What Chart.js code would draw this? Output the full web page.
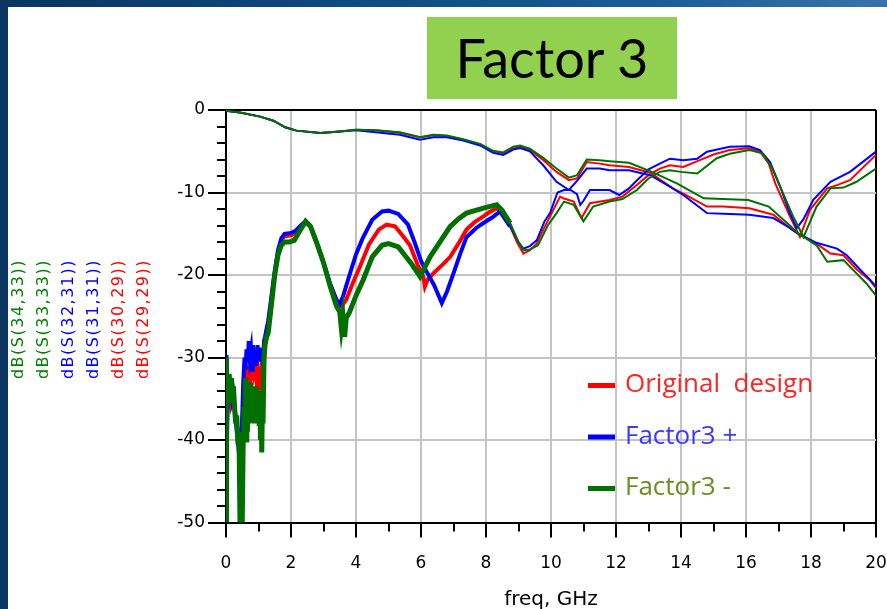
<!DOCTYPE html>
<html>
<head>
<meta charset="utf-8">
<script src="https://cdn.jsdelivr.net/npm/chart.js@4.4.1/dist/chart.umd.min.js"></script>
<style>
  html, body { margin: 0; padding: 0; }
  body {
    width: 887px; height: 609px; overflow: hidden; position: relative;
    background: linear-gradient(90deg, #0a3560 0%, #0f4a80 40%, #1b5d95 75%, #3a73aa 100%);
  }
  #panel { position: absolute; left: 8px; top: 7px; width: 879px; height: 602px; background: #fff; }
  #panel canvas { position: absolute; left: 0; top: 0; }
  #title {
    position: absolute; left: 427px; top: 17px; width: 250px; height: 82px;
    background: #92d050; color: #000; text-align: center;
    font-family: Lato, "Open Sans", sans-serif; font-size: 54px; line-height: 82px;
  }
</style>
</head>
<body>
<div id="panel"><canvas id="sparam" width="879" height="602"></canvas></div>
<div id="title">Factor 3</div>
<script>
// [freq GHz, dB] — reflection curves
const s29_29 = [[0.02,-34],[0.05,-35],[0.1,-34],[0.15,-35.5],[0.2,-34.5],[0.25,-36],[0.3,-37.5],[0.35,-39],[0.4,-40.5],[0.43,-46],
  [0.45,-50],[0.47,-45],[0.5,-38],[0.55,-35],[0.6,-32.5],[0.65,-34],[0.7,-31],[0.75,-32.5],[0.8,-30.5],[0.85,-32],
  [0.9,-31],[0.95,-33.5],[1.0,-32],[1.05,-34],[1.1,-31.5],[1.15,-32],[1.2,-28.5],[1.25,-27],
  [1.3,-26],[1.4,-23],[1.5,-19.8],[1.6,-17.3],[1.7,-15.8],[1.8,-15.3],[2.0,-15.2],[2.15,-14.8],[2.3,-14.1],[2.45,-13.5],
  [2.6,-14.1],[2.8,-16.2],[3.0,-18.5],[3.2,-21.2],[3.4,-23.2],[3.55,-23.8],[3.7,-23],[3.9,-21],[4.12,-19],[4.4,-16.3],
  [4.7,-14.5],[4.94,-13.9],[5.2,-14.1],[5.45,-15.3],[5.66,-16.4],[5.9,-18.8],[6.07,-20.2],[6.12,-21.4],[6.2,-20.6],[6.38,-19.8],
  [6.65,-18.8],[6.9,-17.8],[7.15,-16.2],[7.4,-14.5],[7.65,-13.6],[7.92,-12.9],[8.1,-12.4],[8.33,-11.9],[8.5,-12.5],[8.74,-14.1],
  [8.95,-16],[9.15,-17.4],[9.35,-17],[9.56,-16.2],[9.8,-14.2],[9.97,-12.9],[10.28,-10.5],[10.38,-10.7],[10.7,-11.1],[10.94,-13.1],
  [11.2,-11.3],[11.8,-10.9],[12.2,-10.5],[12.64,-9.1],[13.0,-7.9],[13.35,-7.1],[13.66,-6.7],[14.07,-6.9],[14.6,-6.05],[15.0,-5.4],
  [15.5,-4.85],[16.1,-4.65],[16.43,-5.05],[16.7,-6.5],[16.9,-8.9],[17.35,-12.9],[17.66,-15.4],[17.97,-12.1],[18.5,-9.5],[18.8,-9.1],
  [19.2,-8.5],[20,-5.45]];

const s31_31 = [[0,-50],[0,-29.7],[0.03,-42],[0.06,-35],[0.1,-34],[0.13,-35.5],[0.17,-33.5],[0.2,-35],[0.23,-34.5],[0.27,-36],
  [0.3,-37.5],[0.33,-39],[0.37,-40.5],[0.4,-40],[0.43,-38.5],[0.47,-41],[0.5,-37],[0.53,-33],[0.57,-30],[0.6,-31.5],
  [0.63,-29],[0.67,-30.5],[0.7,-28],[0.73,-30],[0.77,-29],[0.8,-31.5],[0.83,-28.5],[0.87,-30.5],[0.9,-29],[0.93,-31],
  [0.97,-28.5],[1.0,-30],[1.03,-28.8],[1.07,-30.5],[1.1,-29],[1.13,-31],[1.17,-28],[1.2,-27.5],[1.25,-26.5],
  [1.3,-25.5],[1.4,-22.5],[1.5,-19.5],[1.6,-17],[1.7,-15.6],[1.8,-15],[2.0,-14.9],[2.15,-14.6],[2.3,-14],[2.45,-13.5],
  [2.6,-14.1],[2.8,-16.2],[3.0,-18.5],[3.2,-21],[3.4,-23],[3.5,-23.5],[3.6,-22.6],[3.8,-20],[4.0,-17.5],[4.2,-15.6],
  [4.5,-13.3],[4.8,-12.3],[5.0,-12.2],[5.3,-12.6],[5.6,-13.9],[5.8,-16],[6.0,-18.3],[6.2,-19.8],[6.4,-21.2],[6.64,-23.4],
  [6.8,-22],[7.0,-19.8],[7.2,-17.5],[7.4,-15.4],[7.7,-14.3],[7.92,-13.7],[8.2,-13],[8.43,-12.3],[8.74,-14.1],[9.0,-16],
  [9.15,-16.8],[9.35,-16.5],[9.56,-15.8],[9.8,-13.5],[9.97,-12.5],[10.2,-10],[10.4,-9.7],[10.6,-9.7],[10.8,-10.2],[10.9,-11.5],
  [11.0,-11],[11.2,-9.7],[11.8,-9.7],[12.1,-10.3],[12.4,-9.5],[12.6,-8.7],[13.0,-7.2],[13.35,-6.5],[13.66,-5.9],[14.07,-6.1],
  [14.5,-5.9],[14.8,-5.05],[15.5,-4.45],[16.1,-4.4],[16.43,-4.85],[16.74,-6.3],[17.05,-9.3],[17.35,-12.5],[17.56,-14.3],[17.76,-13.3],
  [18.07,-10.9],[18.6,-8.7],[19.2,-7.5],[20,-5.05]];

const s33_33 = [[0,-30],[0,-50],[0.03,-36],[0.07,-33],[0.1,-32],[0.13,-35.5],[0.17,-32.5],[0.2,-35],[0.23,-33.5],[0.27,-36.5],
  [0.3,-38],[0.33,-37],[0.37,-40.5],[0.4,-39],[0.43,-50],[0.47,-42],[0.5,-50],[0.53,-40],[0.55,-36],[0.57,-39],
  [0.6,-32.5],[0.62,-40],[0.64,-33],[0.66,-39],[0.68,-33],[0.7,-38],[0.72,-33.5],[0.74,-37.5],[0.76,-33],[0.78,-37],
  [0.8,-33.5],[0.82,-37.5],[0.84,-33.5],[0.86,-38],[0.88,-34],[0.9,-37.5],[0.92,-33.5],[0.94,-37],[0.96,-34],[0.98,-38],
  [1.0,-34.5],[1.02,-38],[1.04,-34],[1.06,-40],[1.08,-35],[1.1,-41.5],[1.12,-36],[1.14,-38],[1.17,-30],[1.2,-28.5],[1.25,-27.5],
  [1.3,-27],[1.4,-23.5],[1.5,-20],[1.6,-17.6],[1.7,-16.4],[1.8,-16],[1.95,-16],[2.1,-15.8],[2.25,-14.8],[2.45,-13.5],
  [2.6,-14.1],[2.8,-16.2],[3.0,-18.5],[3.2,-21.3],[3.4,-23.8],[3.5,-24.5],[3.55,-26.5],[3.6,-25],[3.65,-27.5],[3.7,-25.2],
  [3.8,-24.5],[4.0,-22.5],[4.22,-20.6],[4.5,-17.8],[4.8,-16.4],[5.0,-16.2],[5.3,-16.6],[5.46,-17.4],[5.7,-18.6],[5.97,-20.2],
  [6.1,-19.2],[6.28,-17.8],[6.6,-15.9],[6.9,-14.1],[7.15,-13.2],[7.4,-12.5],[7.92,-11.9],[8.33,-11.5],[8.5,-12.2],[8.74,-13.7],
  [9.0,-16],[9.15,-17],[9.35,-16.9],[9.6,-16.4],[9.9,-14],[10.17,-12.5],[10.4,-11.1],[10.7,-11.5],[11.0,-13.5],[11.3,-11.7],
  [11.8,-11.1],[12.2,-10.8],[12.64,-9.7],[13.0,-8.3],[13.35,-7.5],[13.66,-7.3],[14.0,-7.5],[14.5,-7.7],[15.1,-5.85],[15.5,-5.3],
  [16.1,-4.85],[16.5,-5.25],[16.8,-7],[17.05,-9.3],[17.45,-12.9],[17.77,-15.4],[18.17,-11.7],[18.6,-9.5],[19.0,-9.4],[19.4,-8.7],
  [20,-7.1]];

// transmission curves
const s30_29 = [[0,-0.1],[0.43,-0.3],[1.05,-0.8],[1.46,-1.3],[1.82,-2.1],[2.17,-2.5],[2.9,-2.8],[3.5,-2.6],[4.0,-2.4],[4.6,-2.45],
  [5.35,-2.75],[5.97,-3.3],[6.38,-3.05],[6.79,-3.15],[7.3,-3.6],[7.82,-4.2],[8.22,-5.05],[8.53,-5.25],[8.84,-4.65],[9.05,-4.45],
  [9.35,-4.85],[9.76,-6.05],[10.17,-7.5],[10.55,-8.5],[10.8,-8.3],[11.1,-6.3],[11.5,-6.5],[11.8,-6.7],[12.4,-6.9],[13.05,-7.6],
  [13.75,-9.5],[14.1,-10.2],[14.8,-11.7],[15.3,-11.7],[16.1,-11.9],[16.84,-12.7],[17.35,-14.3],[17.56,-14.9],[18.17,-16.2],[18.6,-17.4],
  [19.0,-17.6],[19.4,-19.3],[19.8,-20.6],[20,-21.6]];

const s32_31 = [[0,-0.1],[0.43,-0.3],[1.05,-0.8],[1.46,-1.3],[1.82,-2.1],[2.17,-2.5],[2.9,-2.8],[3.5,-2.6],[4.0,-2.45],[4.6,-2.7],
  [5.35,-3.0],[5.97,-3.6],[6.38,-3.3],[6.79,-3.3],[7.3,-3.7],[7.82,-4.3],[8.22,-5.2],[8.53,-5.45],[8.84,-4.8],[9.05,-4.6],
  [9.35,-5.0],[9.76,-6.7],[10.17,-8.7],[10.55,-9.7],[10.8,-8.6],[11.1,-7.1],[11.5,-7.1],[11.8,-7.3],[12.4,-7.3],[13.05,-7.9],
  [13.66,-9.3],[14.07,-10.3],[14.8,-12.5],[15.5,-12.6],[16.1,-12.7],[16.84,-13.1],[17.35,-14.3],[17.56,-14.9],[18.17,-16.1],[18.8,-16.8],
  [19.1,-17.6],[19.5,-19.3],[19.8,-20.5],[20,-21.4]];

const s34_33 = [[0,-0.1],[0.43,-0.3],[1.05,-0.8],[1.46,-1.3],[1.82,-2.1],[2.17,-2.5],[2.9,-2.8],[3.5,-2.6],[4.0,-2.4],[4.6,-2.45],
  [5.35,-2.7],[5.97,-3.3],[6.38,-3.0],[6.79,-3.1],[7.3,-3.55],[7.82,-4.1],[8.22,-4.95],[8.53,-5.15],[8.84,-4.45],[9.05,-4.3],
  [9.35,-4.7],[9.76,-5.8],[10.17,-7.1],[10.55,-8.2],[10.8,-7.9],[11.1,-6.0],[11.5,-6.1],[11.8,-6.2],[12.4,-6.4],[13.05,-7.4],
  [13.87,-8.9],[14.7,-10.7],[16.07,-10.9],[16.7,-11.7],[17.35,-14.0],[17.56,-14.8],[18.17,-16.4],[18.5,-18.4],[19.0,-18.2],[19.4,-19.8],
  [19.7,-21],[20,-22.5]];

const RED = '#ff0000', BLUE = '#0000ff', GREEN = '#007000';

// rotated y-axis labels, left to right
const yLabels = ['dB(S(34,33))', 'dB(S(33,33))', 'dB(S(32,31))', 'dB(S(31,31))', 'dB(S(30,29))', 'dB(S(29,29))'];
const yLabelColors = ['#008000', '#008000', BLUE, BLUE, RED, RED];

const legendNames = ['Original  design', 'Factor3 +', 'Factor3 -'];
const legendLineColors = [RED, BLUE, GREEN];
const legendTextColors = ['#ff2424', '#3a3aff', '#6b8e23'];

const pts = arr => arr.map(([x, y]) => ({x, y}));

// reflection traces are noisy (thick) below ~8.6 GHz
const thickLow = w => ({ borderWidth: c => c.p0.parsed.x < 8.6 ? w : 2 });

function trace(label, data, color, reflect) {
  return {
    label, data: pts(data), borderColor: color, backgroundColor: color,
    borderWidth: 2, pointRadius: 0, tension: 0, fill: false,
    segment: reflect ? thickLow(color === GREEN ? 5 : 4) : undefined
  };
}

const decor = {
  id: 'decor',
  afterDraw(chart) {
    const {ctx, chartArea: a, scales: {x, y}} = chart;
    ctx.save();

    // minor tick marks
    ctx.strokeStyle = '#000';
    ctx.lineWidth = 2;
    ctx.beginPath();
    for (let v = -48; v < 0; v += 2) {
      if (v % 10 === 0) continue;
      const py = Math.round(y.getPixelForValue(v));
      ctx.moveTo(a.left - 9, py);
      ctx.lineTo(a.left, py);
    }
    for (let v = 1; v < 20; v += 2) {
      const px = Math.round(x.getPixelForValue(v));
      ctx.moveTo(px, a.bottom);
      ctx.lineTo(px, a.bottom + 9);
    }
    ctx.stroke();

    // stacked trace names on the left
    ctx.font = '16px "DejaVu Sans"';
    ctx.letterSpacing = '1.5px';
    ctx.textAlign = 'center';
    ctx.textBaseline = 'middle';
    yLabels.forEach((t, i) => {
      ctx.save();
      ctx.translate(11 + i * 25, 312);
      ctx.rotate(-Math.PI / 2);
      ctx.fillStyle = yLabelColors[i];
      ctx.fillText(t, 0, 0);
      ctx.restore();
    });
    ctx.letterSpacing = '0px';

    // legend inside the plot
    ctx.font = '26px "Open Sans"';
    ctx.textAlign = 'left';
    legendNames.forEach((t, i) => {
      const py = 378 + i * 51.5;
      ctx.fillStyle = legendLineColors[i];
      ctx.fillRect(580, py - 2, 27, 5);
      ctx.fillStyle = legendTextColors[i];
      ctx.fillText(t, 617, py);
    });
    ctx.restore();
  }
};

const tickFont = {family: 'DejaVu Sans', size: 17};

new Chart(document.getElementById('sparam'), {
  type: 'line',
  data: {
    datasets: [
      trace('dB(S(34,33))', s34_33, GREEN, false),
      trace('dB(S(33,33))', s33_33, GREEN, true),
      trace('dB(S(32,31))', s32_31, BLUE, false),
      trace('dB(S(31,31))', s31_31, BLUE, true),
      trace('dB(S(30,29))', s30_29, RED, false),
      trace('dB(S(29,29))', s29_29, RED, true)
    ]
  },
  options: {
    responsive: false,
    animation: false,
    layout: { padding: { left: 148, top: 103, right: 11, bottom: 0 } },
    plugins: { legend: { display: false }, tooltip: { enabled: false } },
    scales: {
      x: {
        type: 'linear', min: 0, max: 20,
        afterFit: s => { s.height = 86.5; s.paddingLeft = 0; s.paddingRight = 0; },
        ticks: { stepSize: 2, font: tickFont, color: '#000', padding: 16, maxRotation: 0 },
        grid: {
          lineWidth: 2, tickLength: 15, tickWidth: 2, tickColor: '#000',
          color: c => c.tick && c.tick.value === 20 ? '#000' : '#c4c4c4'
        },
        border: { color: '#000', width: 2 },
        title: { display: true, text: 'freq, GHz', color: '#000',
                 font: {family: 'DejaVu Sans', size: 20}, padding: {top: 0, bottom: -3} }
      },
      y: {
        min: -50, max: 0,
        afterFit: s => { s.width = 70; s.paddingTop = 0; s.paddingBottom = 0; },
        ticks: { stepSize: 10, font: tickFont, color: '#000', padding: 3 },
        grid: {
          lineWidth: 2, tickLength: 18, tickWidth: 2, tickColor: '#000',
          color: c => c.tick && c.tick.value === 0 ? '#000' : '#c4c4c4'
        },
        border: { color: '#000', width: 2 }
      }
    }
  },
  plugins: [decor]
});
</script>
</body>
</html>
